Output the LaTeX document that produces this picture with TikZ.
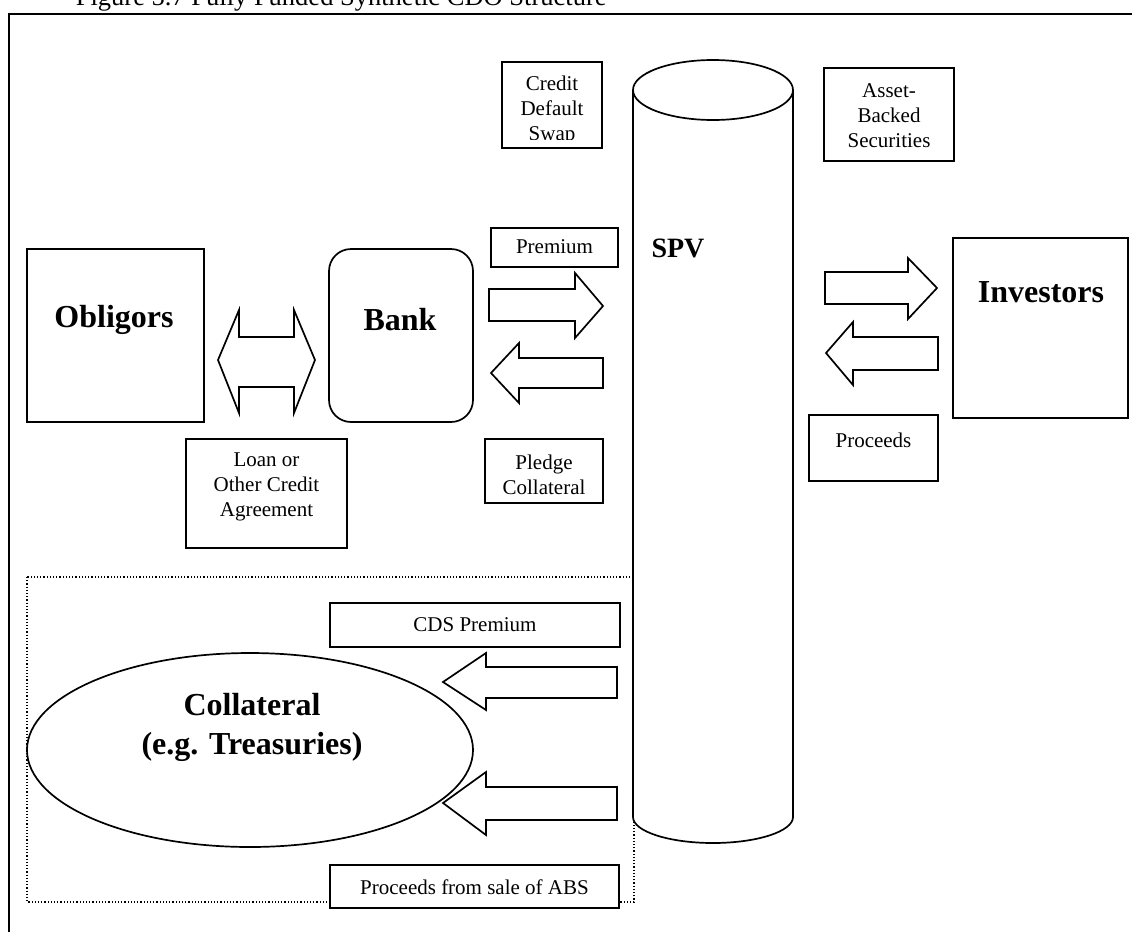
\documentclass[tikz,border=0pt]{standalone}
\usepackage{fontspec}
\setmainfont{Liberation Serif}
\usetikzlibrary{shapes.geometric}
\begin{document}
\begin{tikzpicture}[x=1pt, y=-1pt, line width=1.7pt,
  txt/.style={font=\fontsize{21}{25}\selectfont, align=center, inner sep=0pt},
  head/.style={font=\fontsize{32}{39}\selectfont\bfseries, align=center, inner sep=0pt},
  boxed/.style={draw, fill=white, inner sep=0pt},
  blockarrow/.style={draw, fill=white, line join=miter},
  zone/.style={draw, line width=1.2pt, dotted}]
\useasboundingbox (0,0) rectangle (1132,932);

% page frame and caption
\draw (9,932) -- (9,14) -- (1132,14);
\node[font=\fontsize{26.5}{30}\selectfont, anchor=base west, inner sep=0pt] (title) at (75,5)
  {Figure 5.7 Fully Funded Synthetic CDO Structure};

% collateral zone
\draw[zone] (27,577) rectangle (634,902);

% SPV cylinder
\draw[fill=white] (633,90) -- (633,817) arc[start angle=180, end angle=0, x radius=80, y radius=26] -- (793,90);
\draw (713,90) ellipse[x radius=80, y radius=30];
\coordinate (spvtop) at (713,90);
\node[head, font=\fontsize{28}{34}\selectfont\bfseries] (spv) at (678,248) {SPV};

% boxes
\node[boxed, minimum width=100pt, minimum height=86pt] (cds) at (552,105) {};
\begin{scope}
  \clip (504,64) rectangle (600,139);
  \node[txt] (cdstxt) at (552,110) {Credit\\Default\\Swap};
\end{scope}
\node[boxed, minimum width=130pt, minimum height=93pt] (abs) at (889,114.5) {};
\node[txt] (abstxt) at (889,116) {Asset-\\Backed\\Securities};

\node[boxed, minimum width=177pt, minimum height=173pt] (oblig) at (115.5,335.5) {};
\node[head] (obligtxt) at (114,320) {Obligors};

\node[boxed, rounded corners=22pt, minimum width=144pt, minimum height=173pt] (bank) at (401,335.5) {};
\node[head] (banktxt) at (400,320) {Bank};

\node[boxed, minimum width=127pt, minimum height=39pt] (prem) at (554.5,247.5) {};
\node[txt] (premtxt) at (554.5,247) {Premium};

\node[boxed, minimum width=175pt, minimum height=180pt] (inv) at (1040.5,328) {};
\node[head] (invtxt) at (1041,292) {Investors};

\node[boxed, minimum width=129pt, minimum height=66pt] (proc) at (873.5,448) {};
\node[txt] (proctxt) at (873.5,440) {Proceeds};

\node[boxed, minimum width=161pt, minimum height=109pt] (loan) at (266.5,493.5) {};
\node[txt] (loantxt) at (266.5,487) {Loan or\\Other Credit\\Agreement};

\node[boxed, minimum width=118pt, minimum height=64pt] (pledge) at (544,471) {};
\node[txt] (pledgetxt) at (544,475) {Pledge\\Collateral};

\node[boxed, minimum width=290pt, minimum height=44pt] (cdsprem) at (475,625) {};
\node[txt] (cdspremtxt) at (475,625) {CDS Premium};

\node[boxed, minimum width=289pt, minimum height=43pt] (sale) at (474.5,886.5) {};
\node[txt] (saletxt) at (474.5,887) {Proceeds from sale of ABS};

% collateral pool
\node[draw, ellipse, inner sep=0pt, minimum width=446pt, minimum height=194pt] (coll) at (250,750) {};
\node[head] (colltxt) at (252,727) {Collateral\\(e.g. Treasuries)};

% block arrows
\draw[blockarrow] (218,360) -- (239,310) -- (239,337) -- (294,337) -- (294,310) -- (315,360)
  -- (294,413) -- (294,387) -- (239,387) -- (239,413) -- cycle;
\draw[blockarrow] (489,289) -- (575,289) -- (575,273) -- (603,306) -- (575,338) -- (575,321) -- (489,321) -- cycle;
\draw[blockarrow] (603,358) -- (519,358) -- (519,343) -- (491,373) -- (519,403) -- (519,388) -- (603,388) -- cycle;
\draw[blockarrow] (825,272) -- (908,272) -- (908,258) -- (937,288) -- (908,319) -- (908,304) -- (825,304) -- cycle;
\draw[blockarrow] (938,337) -- (853,337) -- (853,322) -- (826,353) -- (853,385) -- (853,370) -- (938,370) -- cycle;
\draw[blockarrow] (617,667) -- (486,667) -- (486,653) -- (443,682) -- (486,710) -- (486,698) -- (617,698) -- cycle;
\draw[blockarrow] (617,787) -- (486,787) -- (486,772) -- (443,803) -- (486,835) -- (486,820) -- (617,820) -- cycle;
\end{tikzpicture}
\end{document}
